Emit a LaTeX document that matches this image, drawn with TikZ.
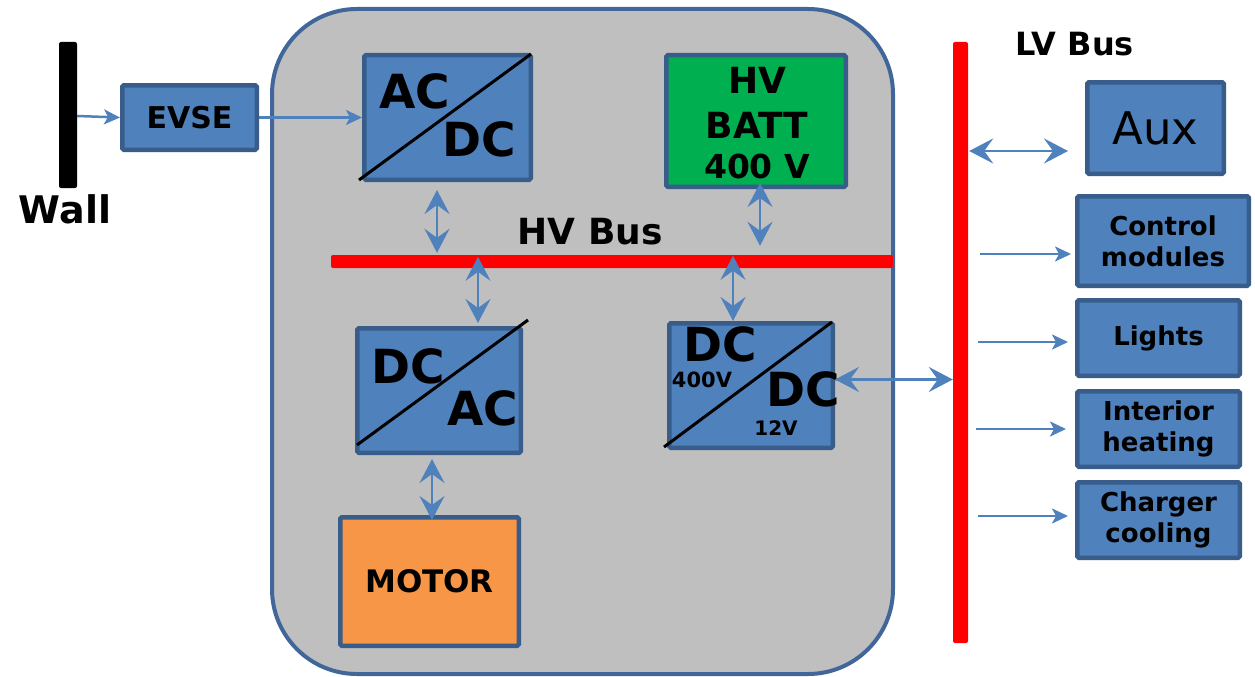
\documentclass[tikz,border=0pt]{standalone}
\usepackage{fontspec}
\setmainfont{DejaVu Sans}
\usetikzlibrary{arrows.meta,calc}
\definecolor{boxblue}{HTML}{4F81BD}
\definecolor{boxedge}{HTML}{385D8A}
\definecolor{frameedge}{HTML}{41679A}
\definecolor{framefill}{HTML}{BFBFBF}
\definecolor{battgreen}{HTML}{00B050}
\definecolor{motororange}{HTML}{F79646}
\definecolor{busred}{HTML}{FF0000}
\definecolor{arrowblue}{HTML}{4F81BD}
\newcommand{\fs}[2]{\fontsize{#1}{#2}\selectfont}
\tikzset{
  blk/.style={draw=boxedge, fill=boxblue, line width=4.5pt, rounded corners=1.5pt, inner sep=0pt, align=center, font=\bfseries},
  bar/.style={fill=busred, draw=none, rounded corners=2pt, inner sep=0pt},
  lbl/.style={inner sep=0pt, font=\bfseries},
  onearrow/.style={draw=arrowblue, line width=2.5pt, -{Stealth[length=16pt,width=15pt,inset=4pt]}},
  twoarrow/.style={draw=arrowblue, line width=2.5pt, {Stealth[length=24pt,width=25pt,inset=9pt]}-{Stealth[length=24pt,width=25pt,inset=9pt]}},
  diag/.style={draw=black, line width=3pt}
}
\begin{document}
\begin{tikzpicture}[x=1pt,y=-1pt]
\useasboundingbox (0,0) rectangle (1255,677);
% frame
\draw[draw=frameedge, fill=framefill, line width=4pt, rounded corners=85pt] (272,9) rectangle (893,674);
% wall
\node[fill=black, rounded corners=2pt, minimum width=18pt, minimum height=146pt, inner sep=0pt] (wall) at (68,115) {};
\node[lbl, font=\bfseries\fs{38}{44}] (walllbl) at (65,209) {Wall};
% boxes
\node[blk, minimum width=134.5pt, minimum height=64.5pt, font=\bfseries\fs{30}{36}] (evse) at (189.5,117.5) {EVSE};
\node[blk, minimum width=166.5pt, minimum height=124.5pt] (acdc) at (447.5,117.5) {};
\node[blk, fill=battgreen, minimum width=179.5pt, minimum height=131.5pt] (batt) at (756,121) {};
\node[blk, minimum width=163.5pt, minimum height=124.5pt] (dcac) at (439,390.5) {};
\node[blk, minimum width=163.5pt, minimum height=124.5pt] (dcdc) at (751,385.5) {};
\node[blk, fill=motororange, minimum width=178.5pt, minimum height=128.5pt, font=\bfseries\fs{31}{36}] (motor) at (429.5,581.5) {MOTOR};
% buses
\node[bar, minimum width=562pt, minimum height=13pt] (hvbus) at (612,261.5) {};
\node[bar, minimum width=15pt, minimum height=601pt] (lvbus) at (960.5,342.5) {};
\node[lbl, font=\bfseries\fs{36}{42}] (hvlbl) at (590,232) {HV Bus};
\node[lbl, font=\bfseries\fs{32}{38}] (lvlbl) at (1075,44) {LV Bus};
% converter diagonals and texts
\draw[diag] (359,180) -- (531,54);
\node[lbl, font=\bfseries\fs{47}{52}] (acdc-a) at (415,91) {AC};
\node[lbl, font=\bfseries\fs{47}{52}] (acdc-d) at (479,139) {DC};
\draw[diag] (357,445) -- (528,320);
\node[lbl, font=\bfseries\fs{47}{52}] (dcac-d) at (408,366) {DC};
\node[lbl, font=\bfseries\fs{47}{52}] (dcac-a) at (483,408) {AC};
\draw[diag] (664,447) -- (832,322);
\node[lbl, font=\bfseries\fs{47}{52}] (dcdc-d1) at (720,344) {DC};
\node[lbl, font=\bfseries\fs{21}{24}] (dcdc-v1) at (702,380) {400V};
\node[lbl, font=\bfseries\fs{47}{52}] (dcdc-d2) at (803,389) {DC};
\node[lbl, font=\bfseries\fs{20}{24}] (dcdc-v2) at (776,428) {12V};
% battery text
\node[lbl, font=\bfseries\fs{36}{44}] (batt-hv) at (757,80) {HV};
\node[lbl, font=\bfseries\fs{36}{44}] (batt-b) at (757,125) {BATT};
\node[lbl, font=\bfseries\fs{33}{40}] (batt-v) at (757,166) {400 V};
% right boxes
\node[blk, minimum width=136.5pt, minimum height=91.5pt, font=\fs{45}{50}] (aux) at (1155.5,128) {Aux};
\node[blk, minimum width=171.5pt, minimum height=89.5pt, font=\bfseries\fs{26}{31}] (ctrl) at (1163,241) {Control\\modules};
\node[blk, minimum width=162.5pt, minimum height=75.5pt, font=\bfseries\fs{26}{31}] (lights) at (1158.5,338) {Lights};
\node[blk, minimum width=162.5pt, minimum height=75.5pt, font=\bfseries\fs{26}{31}] (heat) at (1158.5,429) {Interior\\heating};
\node[blk, minimum width=162.5pt, minimum height=75.5pt, font=\bfseries\fs{26}{31}] (cool) at (1158.5,520) {Charger\\cooling};
% arrows
\coordinate (xa) at (437,0);
\coordinate (xb) at (760,0);
\coordinate (xc) at (478,0);
\coordinate (xd) at (733,0);
\coordinate (xe) at (432,0);
\draw[onearrow] ($(wall.east)+(0,1)$) -- (evse.west);
\draw[onearrow] (evse.east) -- (acdc.west);
\draw[twoarrow] ($(acdc.south -| xa)+(0,8)$) -- ($(hvbus.north -| xa)+(0,-2)$);
\draw[twoarrow] ($(batt.south -| xb)+(0,-6)$) -- ($(hvbus.north -| xb)+(0,-9)$);
\draw[twoarrow] ($(hvbus.north -| xc)+(0,2)$) -- ($(dcac.north -| xc)+(0,-3)$);
\draw[twoarrow] ($(hvbus.north -| xd)+(0,1)$) -- ($(dcdc.north -| xd)+(0,0)$);
\draw[twoarrow] ($(dcac.south -| xe)+(0,4)$) -- ($(motor.north -| xe)+(0,5)$);
\draw[twoarrow] ($(dcdc.east)+(0,-6)$) -- ($(lvbus.west |- dcdc.east)+(0,-6)$);
\draw[twoarrow] ($(lvbus.east |- aux.center)+(1,23)$) -- ($(aux.west)+(-17,23)$);
\draw[onearrow] ($(lvbus.east |- ctrl.center)+(12,13)$) -- ($(ctrl.west)+(-4,13)$);
\draw[onearrow] ($(lvbus.east |- lights.center)+(10,4)$) -- ($(lights.west)+(-7,4)$);
\draw[onearrow] ($(lvbus.east |- heat.center)+(8,0)$) -- ($(heat.west)+(-9,0)$);
\draw[onearrow] ($(lvbus.east |- cool.center)+(10,-4)$) -- ($(cool.west)+(-7,-4)$);
\end{tikzpicture}
\end{document}
